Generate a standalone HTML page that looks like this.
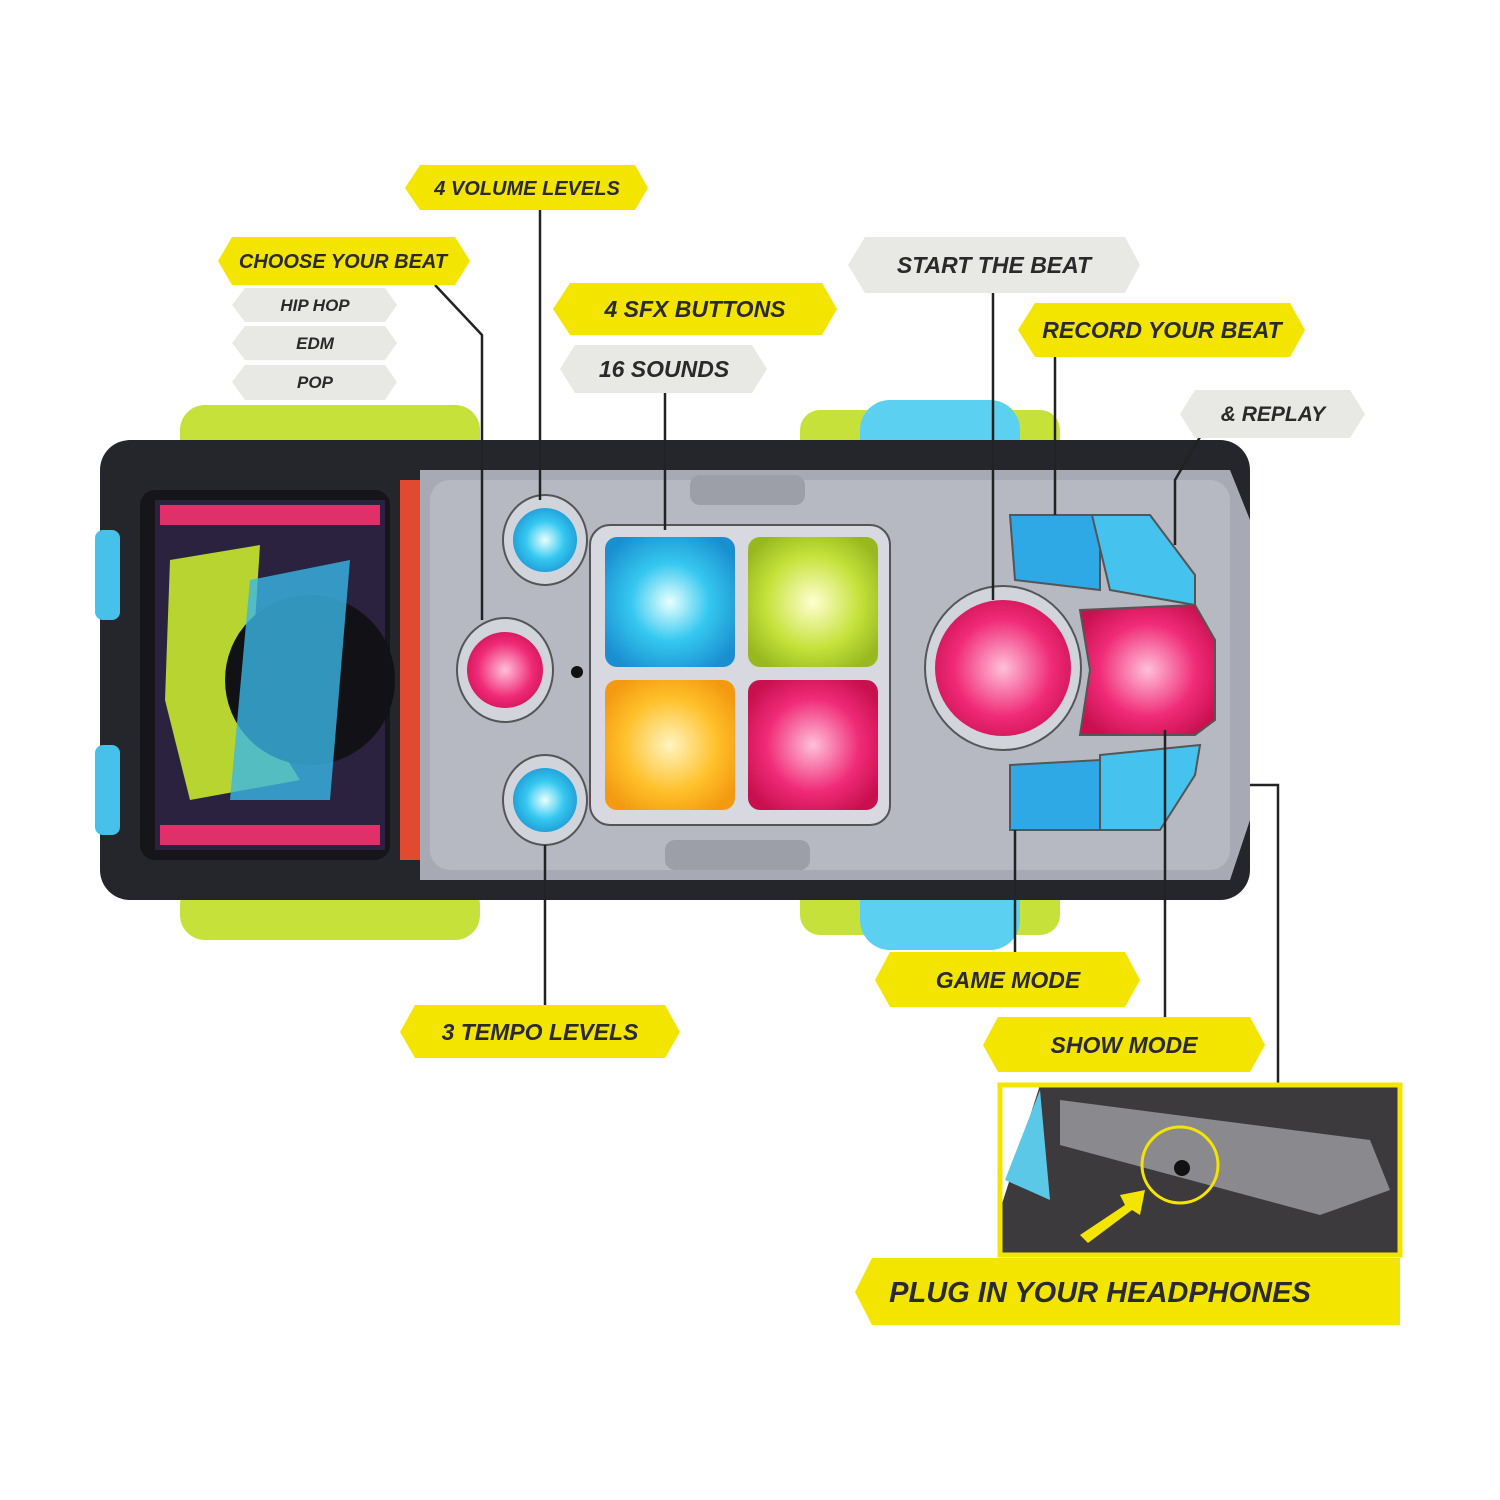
<!DOCTYPE html>
<html><head><style>html,body{margin:0;padding:0;background:#fff}svg{display:block}
text{font-family:"Liberation Sans",sans-serif;font-weight:bold;font-style:italic;fill:#2a2a2a}</style></head>
<body>
<svg width="1500" height="1500" viewBox="0 0 1500 1500" xmlns="http://www.w3.org/2000/svg">
<defs>
<radialGradient id="gc" cx="50%" cy="50%" r="60%"><stop offset="0" stop-color="#e8ffff"/><stop offset=".5" stop-color="#35c8f0"/><stop offset="1" stop-color="#1a8fd0"/></radialGradient>
<radialGradient id="gp" cx="50%" cy="50%" r="60%"><stop offset="0" stop-color="#ffc0d8"/><stop offset=".6" stop-color="#f02a78"/><stop offset="1" stop-color="#c8104e"/></radialGradient>
<radialGradient id="gy" cx="50%" cy="50%" r="60%"><stop offset="0" stop-color="#ffffd0"/><stop offset=".6" stop-color="#c5e23a"/><stop offset="1" stop-color="#98b820"/></radialGradient>
<radialGradient id="go" cx="50%" cy="50%" r="60%"><stop offset="0" stop-color="#fff4c0"/><stop offset=".6" stop-color="#ffc02a"/><stop offset="1" stop-color="#f39a10"/></radialGradient>
</defs>
<rect x="180" y="405" width="300" height="60" rx="25" fill="#c6e23a"/>
<rect x="180" y="880" width="300" height="60" rx="25" fill="#c6e23a"/>
<rect x="800" y="410" width="260" height="60" rx="20" fill="#c6e23a"/>
<rect x="800" y="875" width="260" height="60" rx="20" fill="#c6e23a"/>
<rect x="860" y="400" width="160" height="110" rx="30" fill="#5cd0f0"/>
<rect x="860" y="840" width="160" height="110" rx="30" fill="#5cd0f0"/>
<rect x="100" y="440" width="1150" height="460" rx="30" fill="#25262c"/>
<rect x="95" y="530" width="25" height="90" rx="8" fill="#46c2ea"/>
<rect x="95" y="745" width="25" height="90" rx="8" fill="#46c2ea"/>
<rect x="140" y="490" width="250" height="370" rx="15" fill="#16161a"/>
<rect x="155" y="500" width="230" height="350" fill="#2b2240"/>
<rect x="160" y="505" width="220" height="20" fill="#e0306a"/>
<rect x="160" y="825" width="220" height="20" fill="#e0306a"/>
<polygon points="170,560 260,545 250,700 300,780 190,800 165,700" fill="#b8d430"/>
<circle cx="310" cy="680" r="85" fill="#121216"/>
<polygon points="250,580 350,560 330,800 230,800" fill="#3ab6e6" opacity=".8"/>
<rect x="400" y="480" width="35" height="380" fill="#e2492f"/>
<path d="M420 470 L1230 470 L1250 520 L1250 820 L1230 880 L420 880 Z" fill="#a7a9b4"/>
<rect x="430" y="480" width="800" height="390" rx="20" fill="#b6b8c2"/>
<rect x="690" y="475" width="115" height="30" rx="10" fill="#9c9ea8"/>
<rect x="665" y="840" width="145" height="30" rx="10" fill="#9c9ea8"/>
<ellipse cx="545" cy="540" rx="42" ry="45" fill="#d2d4dc" stroke="#555" stroke-width="2"/>
<circle cx="545" cy="540" r="32" fill="url(#gc)"/>
<ellipse cx="505" cy="670" rx="48" ry="52" fill="#d2d4dc" stroke="#555" stroke-width="2"/>
<circle cx="505" cy="670" r="38" fill="url(#gp)"/>
<ellipse cx="545" cy="800" rx="42" ry="45" fill="#d2d4dc" stroke="#555" stroke-width="2"/>
<circle cx="545" cy="800" r="32" fill="url(#gc)"/>
<circle cx="577" cy="672" r="6" fill="#111"/>
<rect x="590" y="525" width="300" height="300" rx="20" fill="#d8d8e0" stroke="#555" stroke-width="2"/>
<rect x="605" y="537" width="130" height="130" rx="12" fill="url(#gc)"/>
<rect x="748" y="537" width="130" height="130" rx="12" fill="url(#gy)"/>
<rect x="605" y="680" width="130" height="130" rx="12" fill="url(#go)"/>
<rect x="748" y="680" width="130" height="130" rx="12" fill="url(#gp)"/>
<ellipse cx="1003" cy="668" rx="78" ry="82" fill="#d2d4dc" stroke="#555" stroke-width="2"/>
<circle cx="1003" cy="668" r="68" fill="url(#gp)"/>
<polygon points="1080,610 1195,605 1215,640 1215,720 1195,735 1080,735 1090,670" fill="url(#gp)" stroke="#555" stroke-width="2"/>
<polygon points="1010,515 1100,515 1100,590 1015,580" fill="#2fa8e6" stroke="#555" stroke-width="2"/>
<polygon points="1092,515 1150,515 1195,575 1195,605 1110,590" fill="#45c3ee" stroke="#555" stroke-width="2"/>
<polygon points="1010,765 1100,760 1100,830 1010,830" fill="#2fa8e6" stroke="#555" stroke-width="2"/>
<polygon points="1100,755 1200,745 1195,775 1160,830 1100,830" fill="#45c3ee" stroke="#555" stroke-width="2"/>
<g stroke="#222" stroke-width="2.5" fill="none">
<polyline points="540,205 540,500"/>
<polyline points="435,285 482,335 482,620"/>
<polyline points="665,393 665,530"/>
<polyline points="993,290 993,600"/>
<polyline points="1055,357 1055,515"/>
<polyline points="1200,437 1175,480 1175,545"/>
<polyline points="545,845 545,1005"/>
<polyline points="1015,830 1015,955"/>
<polyline points="1165,730 1165,1020"/>
<polyline points="1250,785 1278,785 1278,1085"/>
</g>
<rect x="1000" y="1085" width="400" height="170" fill="#3c3a3c"/>
<polygon points="1000,1085 1040,1085 1000,1210" fill="#fff"/>
<polygon points="1005,1180 1040,1090 1050,1200" fill="#5cc8e8"/>
<polygon points="1060,1100 1370,1140 1390,1190 1320,1215 1060,1145" fill="#8a8a8e"/>
<circle cx="1180" cy="1165" r="38" fill="none" stroke="#f4e500" stroke-width="3"/>
<circle cx="1182" cy="1168" r="8" fill="#111"/>
<polygon points="1080,1235 1125,1205 1120,1195 1145,1190 1140,1215 1132,1210 1088,1243" fill="#f4e500"/>
<rect x="1000" y="1085" width="400" height="170" fill="none" stroke="#f4e500" stroke-width="5"/>
<g>
<polygon points="420,165 635,165 648,188 635,210 420,210 405,188" fill="#f4e500"/>
<text x="527" y="195" font-size="20" text-anchor="middle">4 VOLUME LEVELS</text>
<polygon points="232,237 455,237 470,261 455,285 232,285 218,261" fill="#f4e500"/>
<text x="343" y="268" font-size="20" text-anchor="middle">CHOOSE YOUR BEAT</text>
<polygon points="245,288 385,288 397,305 385,322 245,322 232,305" fill="#e8e8e4"/>
<text x="315" y="311" font-size="17" text-anchor="middle">HIP HOP</text>
<polygon points="245,326 385,326 397,343 385,360 245,360 232,343" fill="#e8e8e4"/>
<text x="315" y="349" font-size="17" text-anchor="middle">EDM</text>
<polygon points="245,365 385,365 397,382 385,400 245,400 232,382" fill="#e8e8e4"/>
<text x="315" y="388" font-size="17" text-anchor="middle">POP</text>
<polygon points="570,283 822,283 837,309 822,335 570,335 553,309" fill="#f4e500"/>
<text x="695" y="317" font-size="23" text-anchor="middle">4 SFX BUTTONS</text>
<polygon points="575,345 752,345 767,369 752,393 575,393 560,369" fill="#e8e8e4"/>
<text x="664" y="377" font-size="23" text-anchor="middle">16 SOUNDS</text>
<polygon points="865,237 1125,237 1140,265 1125,293 865,293 848,265" fill="#e8e8e4"/>
<text x="994" y="273" font-size="23" text-anchor="middle">START THE BEAT</text>
<polygon points="1035,303 1290,303 1305,330 1290,357 1035,357 1018,330" fill="#f4e500"/>
<text x="1162" y="338" font-size="23" text-anchor="middle">RECORD YOUR BEAT</text>
<polygon points="1195,390 1350,390 1365,414 1350,438 1195,438 1180,414" fill="#e8e8e4"/>
<text x="1273" y="421" font-size="21" text-anchor="middle">&amp; REPLAY</text>
<polygon points="890,952 1125,952 1140,980 1125,1007 890,1007 875,980" fill="#f4e500"/>
<text x="1008" y="988" font-size="23" text-anchor="middle">GAME MODE</text>
<polygon points="998,1017 1250,1017 1265,1045 1250,1072 998,1072 983,1045" fill="#f4e500"/>
<text x="1124" y="1053" font-size="23" text-anchor="middle">SHOW MODE</text>
<polygon points="415,1005 665,1005 680,1032 665,1058 415,1058 400,1032" fill="#f4e500"/>
<text x="540" y="1040" font-size="23" text-anchor="middle">3 TEMPO LEVELS</text>
<polygon points="872,1258 1400,1258 1400,1325 872,1325 855,1292" fill="#f4e500"/>
<text x="1100" y="1302" font-size="29" text-anchor="middle">PLUG IN YOUR HEADPHONES</text>
</g>
</svg>
</body></html>
